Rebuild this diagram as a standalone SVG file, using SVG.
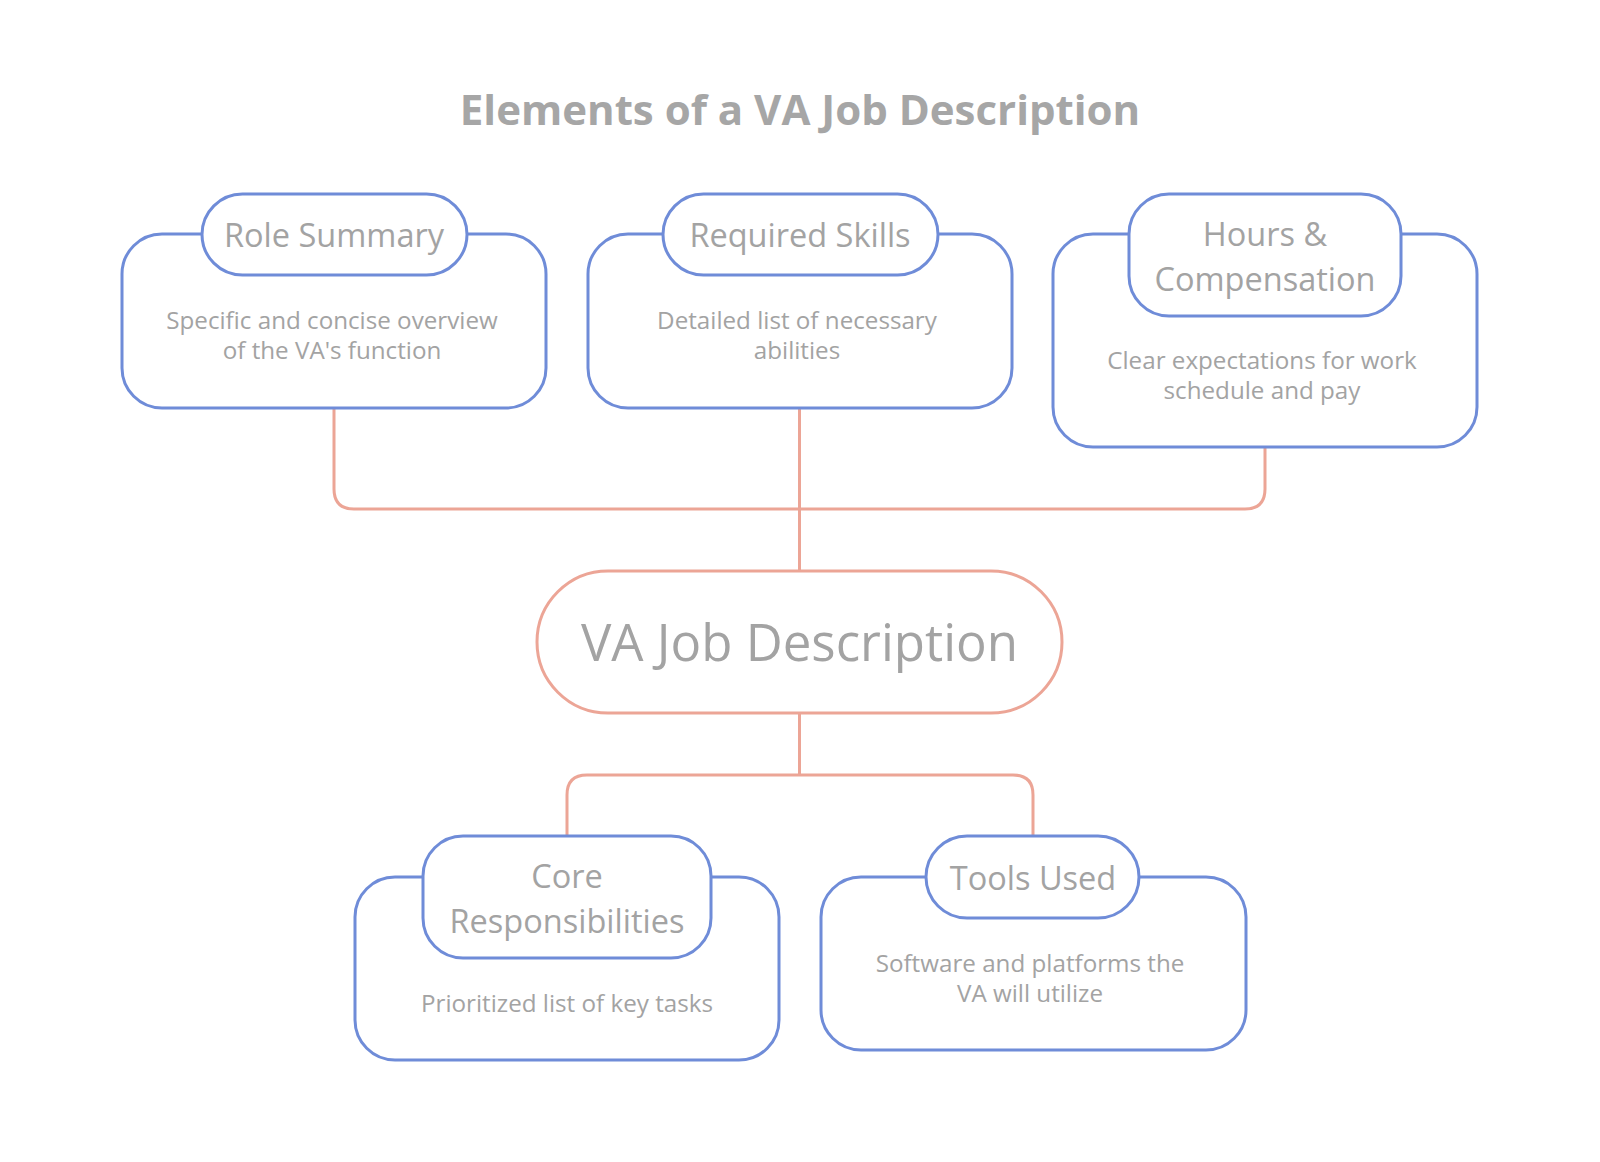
<svg xmlns="http://www.w3.org/2000/svg" width="1600" height="1162" viewBox="0 0 1600 1162">
<style>
.box{fill:#fff;stroke:#6F8CD8;stroke-width:3}
.pill{fill:#fff;stroke:#6F8CD8;stroke-width:3}
.core{fill:#fff;stroke:#ECA596;stroke-width:3}
.conn{fill:none;stroke:#ECA596;stroke-width:3}
.t{font-family:"Open Sans","Liberation Sans",sans-serif;fill:#A3A3A3;text-anchor:middle}
.title{font-size:42px;font-weight:700;fill:#A6A6A6}
.head{font-size:32.5px}
.body{font-size:24.2px}
.main{font-size:51px}
</style>
<rect width="1600" height="1162" fill="#fff"/>
<text class="t title" x="800" y="125">Elements of a VA Job Description</text>
<g id="connectors">
<path class="conn" d="M334,408 V489 Q334,509 354,509 H1245 Q1265,509 1265,489 V447"/>
<path class="conn" d="M799.5,408 V571"/>
<path class="conn" d="M799.5,713 V775"/>
<path class="conn" d="M567,836 V795 Q567,775 587,775 H1013 Q1033,775 1033,795 V836"/>
</g>
<g id="role-summary">
<rect class="box" x="122" y="234" width="424" height="174" rx="40"/>
<rect class="pill" x="202" y="194" width="265" height="81" rx="40.5"/>
<text class="t head" x="334" y="247">Role Summary</text>
<text class="t body" x="332" y="329"><tspan x="332" y="329">Specific and concise overview</tspan><tspan x="332" y="359">of the VA's function</tspan></text>
</g>
<g id="required-skills">
<rect class="box" x="588" y="234" width="424" height="174" rx="40"/>
<rect class="pill" x="663" y="194" width="275" height="81" rx="40.5"/>
<text class="t head" x="800" y="247">Required Skills</text>
<text class="t body" x="797" y="329"><tspan x="797" y="329">Detailed list of necessary</tspan><tspan x="797" y="359">abilities</tspan></text>
</g>
<g id="hours-compensation">
<rect class="box" x="1053" y="234" width="424" height="213" rx="40"/>
<rect class="pill" x="1129" y="194" width="272" height="122" rx="40"/>
<text class="t head" x="1265" y="245.5"><tspan x="1265" y="245.5">Hours &amp;</tspan><tspan x="1265" y="290.5">Compensation</tspan></text>
<text class="t body" x="1262" y="369"><tspan x="1262" y="369">Clear expectations for work</tspan><tspan x="1262" y="399">schedule and pay</tspan></text>
</g>
<g id="va-job-description">
<rect class="core" x="537" y="571" width="525" height="142" rx="71"/>
<text class="t main" x="799.5" y="661">VA Job Description</text>
</g>
<g id="core-responsibilities">
<rect class="box" x="355" y="877" width="424" height="183" rx="40"/>
<rect class="pill" x="423" y="836" width="288" height="122" rx="40"/>
<text class="t head" x="567" y="887.5"><tspan x="567" y="887.5">Core</tspan><tspan x="567" y="932.5">Responsibilities</tspan></text>
<text class="t body" x="567" y="1012">Prioritized list of key tasks</text>
</g>
<g id="tools-used">
<rect class="box" x="821" y="877" width="425" height="173" rx="40"/>
<rect class="pill" x="926" y="836" width="213" height="82" rx="41"/>
<text class="t head" x="1033" y="890">Tools Used</text>
<text class="t body" x="1030" y="972"><tspan x="1030" y="972">Software and platforms the</tspan><tspan x="1030" y="1002">VA will utilize</tspan></text>
</g>
</svg>
